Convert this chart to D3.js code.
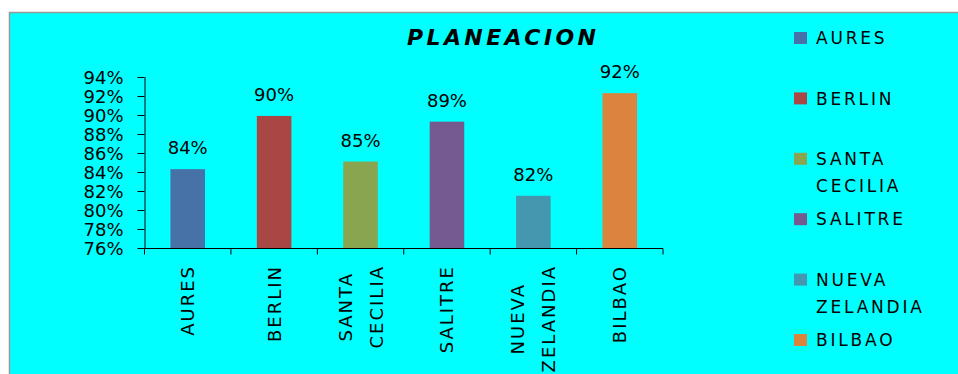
<!DOCTYPE html>
<html><head><meta charset="utf-8">
<script src="https://cdn.jsdelivr.net/npm/d3@7"></script>
<style>
html,body{margin:0;padding:0;background:#fff;}
svg{display:block;}
text{font-family:"DejaVu Sans",Verdana,sans-serif;fill:#000;}
</style></head>
<body>
<script>
const categories = ["AURES","BERLIN","SANTA CECILIA","SALITRE","NUEVA ZELANDIA","BILBAO"];
const axisLabelLines = [["AURES"],["BERLIN"],["SANTA","CECILIA"],["SALITRE"],["NUEVA","ZELANDIA"],["BILBAO"]];
const legendLines = [["AURES"],["BERLIN"],["SANTA","CECILIA"],["SALITRE"],["NUEVA","ZELANDIA"],["BILBAO"]];
const values = [0.843, 0.899, 0.851, 0.893, 0.815, 0.923];
const valueLabels = ["84%","90%","85%","89%","82%","92%"];
const colors = ["#4672A8","#A94744","#8AA550","#745A8F","#4497AE","#DB843D"];
const yTicks = [0.76,0.78,0.80,0.82,0.84,0.86,0.88,0.90,0.92,0.94];
const title = "PLANEACION";

const W = 958, H = 374;
const svg = d3.select("body").append("svg").attr("width", W).attr("height", H);

// background panel
svg.append("rect").attr("x",9.5).attr("y",12.5).attr("width",W).attr("height",H)
  .attr("fill","#00FFFF").attr("stroke","#999").attr("stroke-width",1.5);

const x = d3.scaleBand().domain(categories).range([144.5, 663]).paddingInner(0.6).paddingOuter(0.3);
const y = d3.scaleLinear().domain([0.76, 0.94]).range([248, 77]);

// title
svg.append("text").attr("x", 407).attr("y", 45).attr("text-anchor","start")
  .style("font-size","22px").style("font-weight","bold").style("font-style","italic")
  .style("letter-spacing","3.4px").text(title);

// bars
svg.selectAll("rect.bar").data(values).join("rect").attr("class","bar")
  .attr("x",(d,i)=>x(categories[i])).attr("width",x.bandwidth())
  .attr("y",d=>y(d)).attr("height",d=>y(0.76)-y(d)).attr("fill",(d,i)=>colors[i]);

// value labels
svg.selectAll("text.val").data(values).join("text").attr("class","val")
  .attr("x",(d,i)=>x(categories[i])+x.bandwidth()/2).attr("y",d=>y(d)-15)
  .attr("text-anchor","middle").style("font-size","18px").text((d,i)=>valueLabels[i]);

// y axis
const yAxis = d3.axisLeft(y).tickValues(yTicks).tickFormat(d3.format(".0%")).tickSize(7).tickPadding(14);
const gy = svg.append("g").attr("transform","translate(144.5,0)").call(yAxis);
gy.selectAll("text").style("font-size","18px").attr("dy","0.36em");
gy.selectAll("line,path").attr("stroke","#000");
gy.select("path").attr("d","M0.5,77V248");

// x axis
const band = x.step();
const x0 = 144.5;
const gx = svg.append("g").attr("transform","translate(0,248.5)");
gx.append("line").attr("x1",x0).attr("x2",x0+band*6).attr("stroke","#000");
const tickPos = d3.range(7).map(i => x0 + i*band);
gx.selectAll("line.t").data(tickPos).join("line").attr("class","t")
  .attr("x1",d=>d).attr("x2",d=>d).attr("y1",0).attr("y2",6).attr("stroke","#000");

// x category labels (rotated)
axisLabelLines.forEach((lines,i)=>{
  const cx = x(categories[i]) + x.bandwidth()/2;
  const lh = 31;
  const g = svg.append("g");
  const texts = lines.map((ln,j)=>{
    const off = (j - (lines.length-1)/2) * lh;
    return g.append("text").attr("text-anchor","middle").style("font-size","18px")
      .style("letter-spacing","2px").attr("dy","0.36em").text(ln).datum(off);
  });
  const L = d3.max(texts, t=>t.node().getComputedTextLength());
  const yc = 265 + L/2;
  texts.forEach(t=>{
    t.attr("transform",`translate(${cx + t.datum()},${yc}) rotate(-90)`);
  });
});

// legend
const ly0 = 38, lstep = 60.4;
legendLines.forEach((lines,i)=>{
  const cy = ly0 + i*lstep;
  svg.append("rect").attr("x",794).attr("y",cy-6).attr("width",13).attr("height",12).attr("fill",colors[i]);
  lines.forEach((ln,j)=>{
    svg.append("text").attr("x",816).attr("y",cy + j*27).attr("dy","0.36em")
      .style("font-size","17px").style("letter-spacing","2.8px").text(ln);
  });
});
</script>
</body></html>
